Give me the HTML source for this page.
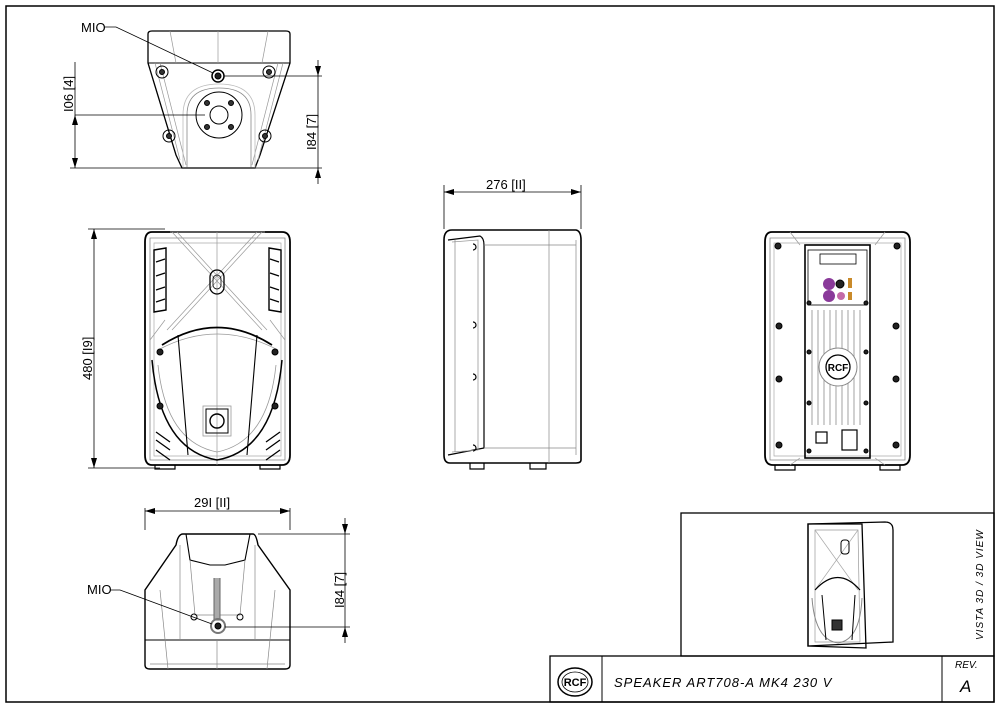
<!DOCTYPE html>
<html><head><meta charset="utf-8"><style>
html,body{margin:0;padding:0;background:#fff;}
svg{display:block;}
text{font-family:"Liberation Sans",sans-serif;}
</style></head><body>
<svg width="1000" height="707" viewBox="0 0 1000 707" xmlns="http://www.w3.org/2000/svg">
<defs>
<marker id="a" markerWidth="10" markerHeight="6" refX="10" refY="3" orient="auto-start-reverse" markerUnits="userSpaceOnUse"><path d="M0,0 L10,3 L0,6z" fill="#000"/></marker>
</defs>
<rect x="6" y="6" width="988" height="696" fill="none" stroke="#000" stroke-width="1.5"/>

<!-- TOP VIEW -->
<g fill="none" stroke="#000">
<path d="M148,34 Q148,31 152,31 L286,31 Q290,31 290,34 L290,63 L260,155 L255,168 L182,168 L176,155 L148,63 Z" stroke-width="1.3"/>
<line x1="148" y1="63" x2="290" y2="63"/>
<path d="M160,63 L186,165 M278,63 L252,165 M170,31 L176,63 M268,31 L262,63 M218,31 L218,63 M155,63 L180,160 M283,63 L258,160" stroke="#999" stroke-width="0.7"/>
<path d="M187,168 L187,115 Q187,88 219,88 Q251,88 251,115 L251,168" stroke="#888" stroke-width="0.8"/>
<path d="M183,168 L183,115 Q183,84 219,84 Q255,84 255,115 L255,168" stroke="#bbb" stroke-width="0.8"/>
<circle cx="219" cy="115" r="23" stroke-width="1"/>
<circle cx="219" cy="115" r="9" stroke-width="1"/>
<g fill="#333"><circle cx="207" cy="103" r="2.5"/><circle cx="231" cy="103" r="2.5"/><circle cx="207" cy="127" r="2.5"/><circle cx="231" cy="127" r="2.5"/></g>
<circle cx="162" cy="72" r="6"/><circle cx="162" cy="72" r="2.5" fill="#333"/>
<circle cx="269" cy="72" r="6"/><circle cx="269" cy="72" r="2.5" fill="#333"/>
<circle cx="169" cy="136" r="6"/><circle cx="169" cy="136" r="2.5" fill="#333"/>
<circle cx="265" cy="136" r="6"/><circle cx="265" cy="136" r="2.5" fill="#333"/>
<circle cx="218" cy="76" r="6" stroke-width="1.5"/><circle cx="218" cy="76" r="3" fill="#222"/>
<path d="M104,27 L116,27 L213,73" stroke-width="0.8"/>
<line x1="224" y1="76" x2="322" y2="76" stroke-width="0.8"/>
<line x1="70" y1="168" x2="322" y2="168" stroke-width="0.8"/>
<line x1="75" y1="115" x2="205" y2="115" stroke-width="0.8"/>
<line x1="75" y1="62" x2="75" y2="115" stroke-width="0.8"/>
<line x1="75" y1="115" x2="75" y2="168" stroke-width="0.8" marker-start="url(#a)" marker-end="url(#a)"/>
<line x1="318" y1="60" x2="318" y2="76" stroke-width="0.8" marker-end="url(#a)"/>
<line x1="318" y1="76" x2="318" y2="168" stroke-width="0.8"/>
<line x1="318" y1="184" x2="318" y2="168" stroke-width="0.8" marker-end="url(#a)"/>
</g>
<text x="81" y="32" font-size="13">MIO</text>
<text transform="translate(73,112) rotate(-90)" font-size="13">I06 [4]</text>
<text transform="translate(316,150) rotate(-90)" font-size="13">I84 [7]</text>

<!-- FRONT VIEW -->
<g fill="none" stroke="#000">
<path d="M152,232 L282,232 Q290,232 290,242 L290,455 Q290,465 282,465 L152,465 Q145,465 145,455 L145,242 Q145,232 152,232 Z" stroke-width="1.8"/>
<path d="M150,238 L285,238 L285,460 L150,460 Z" stroke="#888" stroke-width="0.8"/>
<path d="M154,243 L281,243 L281,456 L154,456 Z" stroke="#aaa" stroke-width="0.7"/>
<path d="M170,232 L265,232 M172,232 L262,330 M262,232 L172,330 M177,232 L267,330 M257,232 L167,330 M217,232 L217,465 M150,340 L165,320 M285,340 L270,320" stroke="#999" stroke-width="0.7"/>
<path d="M162,345 Q217,310 272,345" stroke-width="1.8"/>
<path d="M158,350 Q217,318 278,350" stroke="#999" stroke-width="0.8"/>
<path d="M152,360 Q160,450 217,460 Q274,450 282,360" stroke-width="1.5"/>
<path d="M158,365 Q166,442 217,452 Q268,442 276,365" stroke="#999" stroke-width="0.8"/>
<path d="M178,335 L188,455 M257,335 L247,455" stroke-width="1.1"/>
<rect x="210" y="270" width="14" height="24" rx="7" stroke-width="1.3"/>
<rect x="213" y="275" width="8" height="14" rx="4" stroke-width="0.8"/>
<path d="M154,250 l12,-2 l0,62 l-12,2 Z M269,248 l12,2 l0,62 l-12,-2 Z" stroke-width="1.4"/>
<path d="M156,262 l9,-3 M156,276 l9,-3 M156,290 l9,-3 M156,302 l9,-3 M270,259 l9,3 M270,273 l9,3 M270,287 l9,3 M270,299 l9,3" stroke-width="1.2"/>
<path d="M156,440 l14,10 M156,450 l14,10 M280,440 l-14,10 M280,450 l-14,10 M156,432 l14,10 M280,432 l-14,10" stroke-width="1.3"/>
<rect x="206" y="409" width="22" height="24" stroke-width="1"/>
<rect x="203" y="406" width="28" height="30" stroke="#999" stroke-width="0.8"/>
<circle cx="217" cy="421" r="7" stroke-width="1.4"/>
<g fill="#222"><circle cx="160" cy="352" r="3"/><circle cx="275" cy="352" r="3"/><circle cx="160" cy="406" r="3"/><circle cx="275" cy="406" r="3"/></g>
<path d="M155,465 l0,4 l20,0 l0,-4 M260,465 l0,4 l20,0 l0,-4" stroke-width="1.2"/>
<line x1="88" y1="229" x2="165" y2="229" stroke-width="0.8"/>
<line x1="88" y1="468" x2="160" y2="468" stroke-width="0.8"/>
<line x1="94" y1="229" x2="94" y2="468" stroke-width="0.8" marker-start="url(#a)" marker-end="url(#a)"/>
</g>
<text transform="translate(92,380) rotate(-90)" font-size="13">480 [I9]</text>

<!-- SIDE VIEW -->
<g fill="none" stroke="#000">
<path d="M452,230 L576,230 Q581,231 581,240 L581,460 Q581,463 576,463 L450,463 Q444,463 444,455 L444,240 Q444,230 452,230 Z" stroke-width="1.6"/>
<path d="M448,240 L480,236 Q484,238 484,245 L484,448 L448,455" stroke-width="1.2"/>
<path d="M452,242 L478,240 L478,450 L452,452" stroke="#999" stroke-width="0.8"/>
<path d="M455,240 L455,452 M549,230 L549,463 M484,245 L576,245 M484,448 L576,448 M576,240 L576,455" stroke="#888" stroke-width="0.7"/>
<path d="M473,244 a3,3 0 1,1 0,6 M473,322 a3,3 0 1,1 0,6 M473,374 a3,3 0 1,1 0,6 M473,445 a3,3 0 1,1 0,6" stroke-width="1.2"/>
<path d="M470,463 l0,6 l14,0 l0,-6 M530,463 l0,6 l16,0 l0,-6" stroke-width="1.2"/>
<line x1="444" y1="185" x2="444" y2="229" stroke-width="0.8"/>
<line x1="581" y1="185" x2="581" y2="229" stroke-width="0.8"/>
<line x1="444" y1="192" x2="581" y2="192" stroke-width="0.8" marker-start="url(#a)" marker-end="url(#a)"/>
</g>
<text x="486" y="189" font-size="13">276 [II]</text>

<!-- BACK VIEW -->
<g fill="none" stroke="#000">
<path d="M772,232 L902,232 Q910,232 910,242 L910,455 Q910,465 902,465 L773,465 Q765,465 765,455 L765,242 Q765,232 772,232 Z" stroke-width="1.8"/>
<path d="M770,238 L905,238 L905,460 L770,460 Z" stroke="#888" stroke-width="0.8"/>
<path d="M774,243 L901,243 L901,456 L774,456 Z" stroke="#aaa" stroke-width="0.7"/>
<path d="M790,232 L800,245 M885,232 L875,245 M790,465 L800,458 M885,465 L875,458" stroke="#999" stroke-width="0.7"/>
<rect x="805" y="245" width="65" height="213" stroke-width="1.6"/>
<rect x="808" y="250" width="59" height="55" fill="#fff" stroke-width="0.8"/>
<rect x="820" y="254" width="36" height="10" stroke-width="0.8"/>
<path d="M812,310 L812,425 M818,310 L818,425 M824,310 L824,425 M830,310 L830,425 M836,310 L836,425 M842,310 L842,425 M848,310 L848,425 M854,310 L854,425 M860,310 L860,425" stroke="#999" stroke-width="0.9"/>
<circle cx="838" cy="367" r="19" fill="#fff" stroke="#888"/>
<circle cx="838" cy="367" r="12" fill="#fff" stroke-width="1.3"/>
<rect x="816" y="432" width="11" height="11" stroke-width="1.2"/>
<rect x="842" y="430" width="15" height="20" stroke-width="1.2"/>
<g fill="#222"><circle cx="778" cy="246" r="3"/><circle cx="897" cy="246" r="3"/><circle cx="779" cy="326" r="3"/><circle cx="896" cy="326" r="3"/><circle cx="779" cy="379" r="3"/><circle cx="896" cy="379" r="3"/><circle cx="779" cy="445" r="3"/><circle cx="896" cy="445" r="3"/>
<circle cx="809" cy="303" r="2"/><circle cx="866" cy="303" r="2"/><circle cx="809" cy="352" r="2"/><circle cx="866" cy="352" r="2"/><circle cx="809" cy="403" r="2"/><circle cx="866" cy="403" r="2"/><circle cx="809" cy="451" r="2"/><circle cx="866" cy="451" r="2"/><circle cx="840" cy="284" r="4"/></g>
<path d="M775,465 l0,5 l20,0 l0,-5 M880,465 l0,5 l20,0 l0,-5" stroke-width="1.2"/>
</g>
<circle cx="829" cy="284" r="6" fill="#8a3a9a"/><circle cx="829" cy="296" r="6" fill="#8a3a9a"/>
<circle cx="841" cy="296" r="4" fill="#c46aa8"/>
<rect x="848" y="278" width="4" height="10" fill="#c98a2a"/><rect x="848" y="292" width="4" height="8" fill="#c98a2a"/>
<text x="838" y="371" font-size="10" font-weight="bold" text-anchor="middle">RCF</text>

<!-- BOTTOM VIEW -->
<g fill="none" stroke="#000">
<path d="M183,534 L253,534 Q256,534 258,545 L290,590 L290,665 Q290,669 285,669 L150,669 Q145,669 145,665 L145,590 L176,545 Q178,534 183,534 Z" stroke-width="1.4"/>
<line x1="145" y1="640" x2="290" y2="640" stroke-width="1.1"/>
<path d="M186,534 L190,560 L210,565 L218,565 L225,565 L245,560 L250,534" stroke-width="1.1"/>
<path d="M190,560 L195,615 L240,615 L245,560 M160,590 L168,669 M275,590 L267,669 M217,640 L217,669 M180,545 L180,640 M255,545 L255,640 M150,664 L285,664" stroke="#888" stroke-width="0.7"/>
<path d="M214,578 L214,620 L220,620 L220,578" stroke="#666" fill="#aaa"/>
<circle cx="194" cy="617" r="3"/><circle cx="240" cy="617" r="3"/>
<circle cx="218" cy="626" r="7" stroke="#777" stroke-width="2"/><circle cx="218" cy="626" r="3" fill="#222"/>
<path d="M110,590 L120,590 L212,624" stroke-width="0.8"/>
<line x1="145" y1="508" x2="145" y2="530" stroke-width="0.8"/>
<line x1="290" y1="508" x2="290" y2="530" stroke-width="0.8"/>
<line x1="145" y1="511" x2="290" y2="511" stroke-width="0.8" marker-start="url(#a)" marker-end="url(#a)"/>
<line x1="258" y1="534" x2="350" y2="534" stroke-width="0.8"/>
<line x1="225" y1="627" x2="350" y2="627" stroke-width="0.8"/>
<line x1="345" y1="518" x2="345" y2="534" stroke-width="0.8" marker-end="url(#a)"/>
<line x1="345" y1="534" x2="345" y2="627" stroke-width="0.8"/>
<line x1="345" y1="643" x2="345" y2="627" stroke-width="0.8" marker-end="url(#a)"/>
</g>
<text x="194" y="507" font-size="13">29I [II]</text>
<text x="87" y="594" font-size="13">MIO</text>
<text transform="translate(344,608) rotate(-90)" font-size="13">I84 [7]</text>

<!-- 3D inset -->
<rect x="681" y="513" width="313" height="143" fill="none" stroke="#000" stroke-width="1.3"/>
<g fill="none" stroke="#000">
<path d="M808,524 L885,522 Q893,522 893,530 L893,642 L808,646 Z" stroke-width="1.3"/>
<path d="M808,524 L862,524 L866,648 L808,646 Z" stroke-width="1.3"/>
<path d="M815,530 L858,530 L860,642 L815,642 Z" stroke="#999" stroke-width="0.7"/>
<path d="M815,530 L858,590 M858,530 L815,590" stroke="#aaa" stroke-width="0.7"/>
<path d="M815,590 Q838,565 860,590" stroke-width="1.2"/>
<path d="M812,598 Q815,640 838,643 Q860,640 862,598" stroke="#888"/>
<path d="M822,595 L826,640 M855,595 L852,640"/>
<rect x="841" y="540" width="8" height="14" rx="3"/>
<rect x="832" y="620" width="10" height="10" fill="#333"/>
</g>
<text transform="translate(983,640) rotate(-90)" font-size="10" font-style="italic" letter-spacing="1">VISTA 3D / 3D VIEW</text>

<!-- title block -->
<rect x="550" y="656" width="444" height="46" fill="none" stroke="#000" stroke-width="1.3"/>
<line x1="602" y1="656" x2="602" y2="702" stroke="#000"/>
<line x1="942" y1="656" x2="942" y2="702" stroke="#000"/>
<ellipse cx="575" cy="682" rx="17" ry="14" fill="none" stroke="#000" stroke-width="1.5"/>
<ellipse cx="575" cy="682" rx="13" ry="10" fill="none" stroke="#000" stroke-width="0.8"/>
<text x="575" y="686" font-size="11" font-weight="bold" text-anchor="middle">RCF</text>
<text x="614" y="687" font-size="13" font-style="italic" letter-spacing="1">SPEAKER ART708-A MK4 230 V</text>
<text x="955" y="668" font-size="10" font-style="italic">REV.</text>
<text x="960" y="692" font-size="17" font-style="italic">A</text>
</svg>
</body></html>
